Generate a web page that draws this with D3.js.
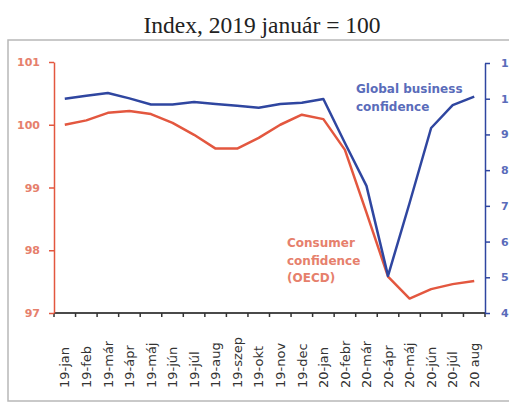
<!DOCTYPE html>
<html><head><meta charset="utf-8">
<script src="https://cdn.jsdelivr.net/npm/d3@7"></script>
<style>
html,body{margin:0;padding:0;background:#fff;overflow:hidden}
svg{display:block}
</style></head>
<body>
<script>
const months = ["19-jan","19-feb","19-már","19-ápr","19-máj","19-jún","19-júl","19-aug","19-szep","19-okt","19-nov","19-dec","20-jan","20-febr","20-már","20-ápr","20-máj","20-jún","20-júl","20 aug"];
const consumer = [100.0,100.07,100.19,100.22,100.17,100.03,99.84,99.62,99.62,99.79,100.0,100.16,100.09,99.6,98.6,97.58,97.23,97.38,97.46,97.51];
const business = [100.0,100.8,101.6,100.1,98.4,98.4,99.1,98.5,98.0,97.5,98.5,98.9,99.9,87.6,75.6,50.4,70.8,91.8,98.2,100.6];
const leftTicks = [97,98,99,100,101];
const rightTicks = [40,50,60,70,80,90,100,110];
const title = "Index, 2019 január = 100";

const W = 509, H = 404;
const red = "#e3573f", redTxt = "#e6806c", blue = "#2f46a0", blueTxt = "#5a6cba";

const svg = d3.select("body").append("svg").attr("width", W).attr("height", H);

// frame
svg.append("path").attr("d", `M${W+2},40 H8 V401 H${W+2}`)
  .attr("fill","none").attr("stroke","#b8b8b8").attr("stroke-width",1.5);

svg.append("text").attr("x", 262).attr("y", 33).attr("text-anchor","middle")
  .attr("font-family","Liberation Serif, Times New Roman, serif").attr("font-size",23.5)
  .attr("fill","#222").text(title);

const x = d3.scaleBand().domain(months).range([54, 485]);
const yL = d3.scaleLinear().domain([97, 101]).range([313, 62]);
const yR = d3.scaleLinear().domain([40, 110]).range([313, 63]);
const cx = d => x(d) + x.bandwidth()/2;

// x axis
const gx = svg.append("g").attr("transform","translate(0,313)");
gx.append("line").attr("x1",54).attr("x2",485).attr("stroke","#4a4a4a").attr("stroke-width",2);
const bounds = months.map(m => x(m)).concat([x.range()[1]]);
gx.selectAll("line.tk").data(bounds).join("line").attr("class","tk")
  .attr("x1",d=>d).attr("x2",d=>d).attr("y1",0).attr("y2",4)
  .attr("stroke","#333").attr("stroke-width",1.5);

svg.append("g").selectAll("text").data(months).join("text")
  .attr("transform", d => `translate(${cx(d)},388) rotate(-90)`)
  .attr("dy","0.36em").attr("text-anchor","start")
  .attr("font-family","DejaVu Sans, sans-serif").attr("font-size",13)
  .attr("fill","#333").text(d => d);

// left axis
const gl = svg.append("g").attr("transform","translate(54,0)")
  .call(d3.axisLeft(yL).tickValues(leftTicks).tickFormat(d3.format("d")).tickSize(5).tickPadding(9).tickSizeOuter(0));
gl.select(".domain").attr("stroke", red).attr("stroke-width",1.5);
gl.selectAll(".tick line").attr("stroke", red).attr("stroke-width",1.5);
gl.selectAll(".tick text").attr("fill", redTxt).attr("font-family","DejaVu Sans, sans-serif")
  .attr("font-weight","bold").attr("font-size",11);

// right axis
const gr = svg.append("g").attr("transform","translate(485,0)")
  .call(d3.axisRight(yR).tickValues(rightTicks).tickFormat(d3.format("d")).tickSize(5).tickPadding(11).tickSizeOuter(0));
gr.select(".domain").attr("stroke", blue).attr("stroke-width",1.5);
gr.selectAll(".tick line").attr("stroke", blue).attr("stroke-width",1.5);
gr.selectAll(".tick text").attr("fill", blueTxt).attr("font-family","DejaVu Sans, sans-serif")
  .attr("font-weight","bold").attr("font-size",11);

// lines
const lineL = d3.line().x((d,i)=>cx(months[i])).y(d=>yL(d));
const lineR = d3.line().x((d,i)=>cx(months[i])).y(d=>yR(d));
svg.append("path").datum(consumer).attr("d", lineL).attr("fill","none")
  .attr("stroke", red).attr("stroke-width",2.5).attr("stroke-linejoin","round");
svg.append("path").datum(business).attr("d", lineR).attr("fill","none")
  .attr("stroke", blue).attr("stroke-width",2.5).attr("stroke-linejoin","round");

// annotations
const ann = (lines, x0, y0, col) => {
  const t = svg.append("text").attr("font-family","DejaVu Sans, sans-serif")
    .attr("font-weight","bold").attr("font-size",12).attr("fill",col);
  lines.forEach((l,i)=> t.append("tspan").attr("x",x0).attr("y",y0+i*17.5).text(l));
};
ann(["Global business","confidence"], 356, 93, blueTxt);
ann(["Consumer","confidence","(OECD)"], 287, 247, redTxt);
</script>
</body></html>
